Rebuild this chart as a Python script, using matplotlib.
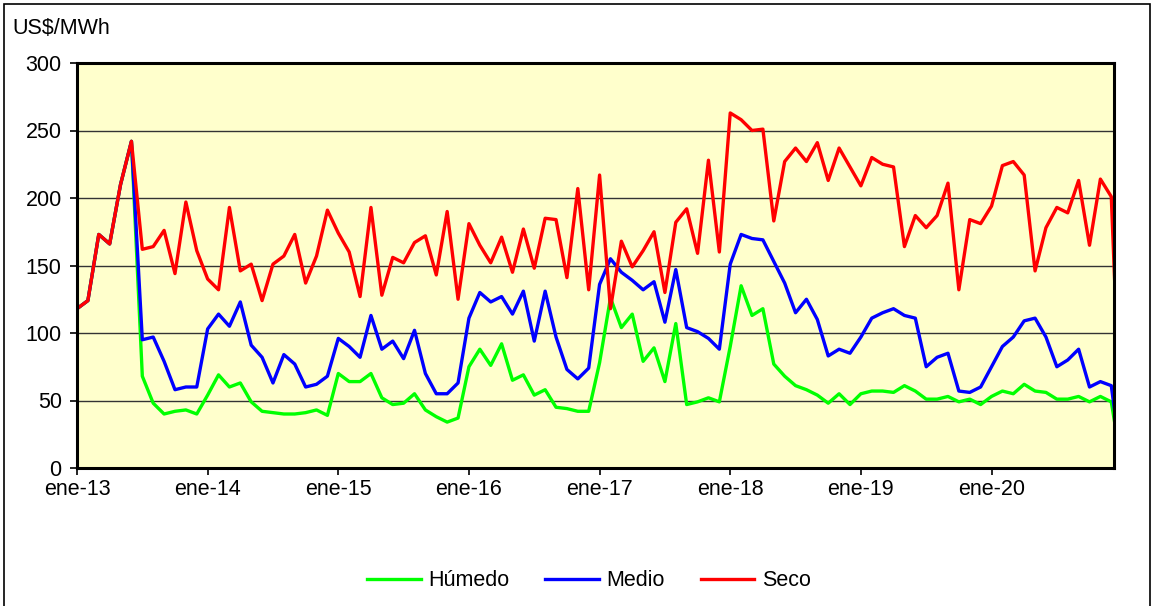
import numpy as np
import matplotlib
matplotlib.use("Agg")
import matplotlib.pyplot as plt
from matplotlib.patches import Rectangle

plt.rcParams['font.family'] = ['Liberation Sans', 'DejaVu Sans']

# monthly marginal costs, ene-13 .. dic-20 (US$/MWh)
seco = [118, 124, 173, 166, 210, 242, 162, 164, 176, 144, 197, 161,
        140, 132, 193, 146, 151, 124, 151, 157, 173, 137, 157, 191,
        174, 160, 127, 193, 128, 156, 152, 167, 172, 143, 190, 125,
        181, 165, 152, 171, 145, 177, 148, 185, 184, 141, 207, 132,
        217, 118, 168, 149, 161, 175, 130, 182, 192, 159, 228, 160,
        263, 258, 250, 251, 183, 227, 237, 227, 241, 213, 237, 223,
        209, 230, 225, 223, 164, 187, 178, 187, 211, 132, 184, 181,
        194, 224, 227, 217, 146, 178, 193, 189, 213, 165, 214, 201]

medio = [118, 124, 173, 166, 210, 242, 95, 97, 79, 58, 60, 60,
         103, 114, 105, 123, 91, 82, 63, 84, 77, 60, 62, 68,
         96, 90, 82, 113, 88, 94, 81, 102, 70, 55, 55, 63,
         111, 130, 123, 127, 114, 131, 94, 131, 97, 73, 66, 74,
         136, 155, 145, 139, 132, 138, 108, 147, 104, 101, 96, 88,
         151, 173, 170, 169, 153, 137, 115, 125, 110, 83, 88, 85,
         97, 111, 115, 118, 113, 111, 75, 82, 85, 57, 56, 60,
         75, 90, 97, 109, 111, 97, 75, 80, 88, 60, 64, 61]

humedo = [118, 124, 173, 166, 210, 242, 68, 48, 40, 42, 43, 40,
          54, 69, 60, 63, 49, 42, 41, 40, 40, 41, 43, 39,
          70, 64, 64, 70, 52, 47, 48, 55, 43, 38, 34, 37,
          75, 88, 76, 92, 65, 69, 54, 58, 45, 44, 42, 42,
          78, 126, 104, 114, 79, 89, 64, 107, 47, 49, 52, 49,
          90, 135, 113, 118, 77, 68, 61, 58, 54, 48, 55, 47,
          55, 57, 57, 56, 61, 57, 51, 51, 53, 49, 51, 47,
          53, 57, 55, 62, 57, 56, 51, 51, 53, 49, 53, 49]

# ene-21 is an empty cell in the sheet, plotted as zero
seco = seco + [0]
medio = medio + [0]
humedo = humedo + [0]

year_labels = ['ene-13', 'ene-14', 'ene-15', 'ene-16',
               'ene-17', 'ene-18', 'ene-19', 'ene-20']

x = np.arange(len(seco))
fs = 15.5

fig = plt.figure(figsize=(11.56, 6.06), dpi=100)
ax = fig.add_axes([77 / 1156, 1 - 468 / 606, (1114 - 77) / 1156, (468 - 63) / 606])
ax.set_facecolor('#FFFFCC')

lw = 2.4
ax.plot(x, humedo, color='#00FF00', lw=lw, label='Húmedo')
ax.plot(x, medio, color='#0000FF', lw=lw, label='Medio')
ax.plot(x, seco, color='#FF0000', lw=lw, label='Seco')

ax.set_xlim(0, 95.25)
ax.set_ylim(0, 300)
ax.set_yticks(np.arange(0, 301, 50))
ax.set_xticks(np.arange(len(year_labels)) * 12)
ax.set_xticklabels(year_labels)
ax.grid(axis='y', color='#333333', lw=1.0)
ax.set_axisbelow(True)

for s in ax.spines.values():
    s.set_linewidth(2.2)
    s.set_color('black')
    s.set_zorder(5)
ax.tick_params(axis='both', direction='out', length=5, width=1.2,
               labelsize=fs, colors='black')
ax.tick_params(axis='x', pad=3)
ax.tick_params(axis='y', pad=6)

fig.text(12 / 1156, 1 - 28 / 606, 'US$/MWh', fontsize=fs, va='center', ha='left')

fig.legend(loc='center', bbox_to_anchor=(589 / 1156, 1 - 581 / 606), ncol=3,
           frameon=False, fontsize=fs, handlelength=2.5, handletextpad=0.35,
           columnspacing=1.65)

# outer chart frame
fig.patches.append(Rectangle((4 / 1156, -0.05), (1150 - 4) / 1156, 1.05 - 4 / 606,
                             transform=fig.transFigure, fill=False,
                             edgecolor='black', lw=1.2))

fig.savefig('out.png', dpi=100)
